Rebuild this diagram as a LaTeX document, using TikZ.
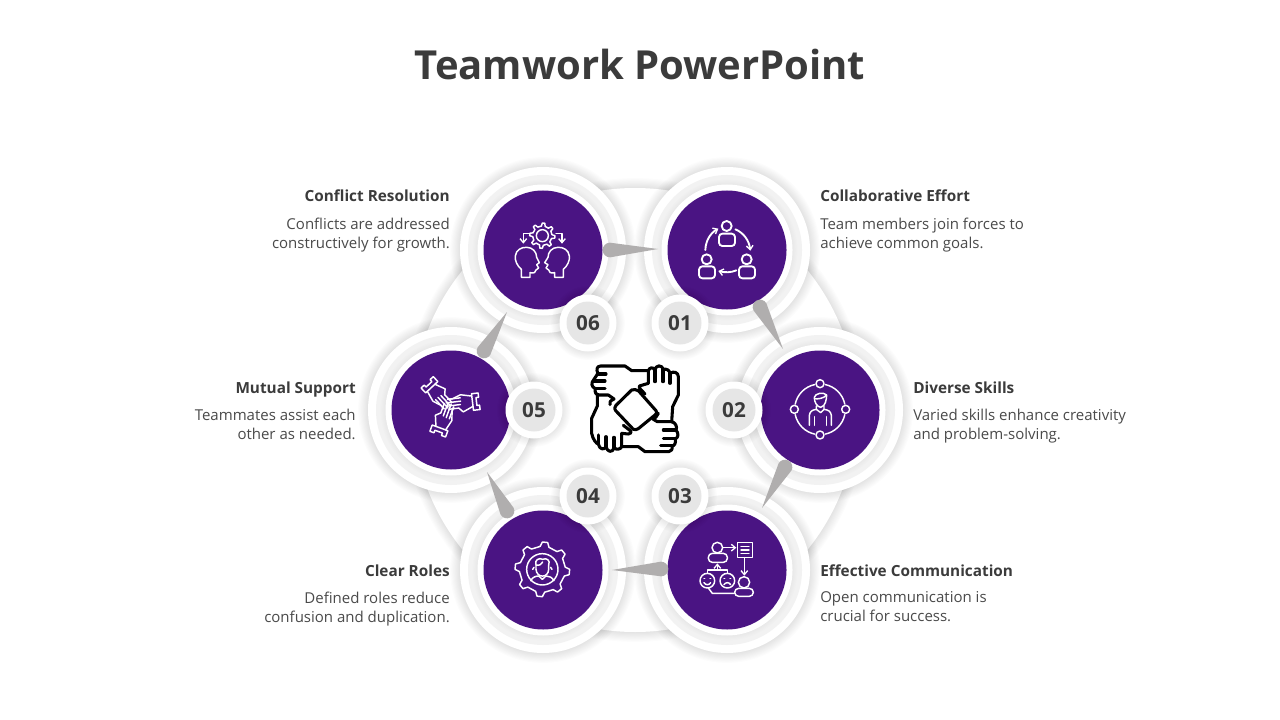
\documentclass[tikz,border=0pt]{standalone}
\usepackage{fontspec}
\setmainfont{Open Sans}
\usetikzlibrary{calc,arrows.meta}
\definecolor{ink}{HTML}{3B3B3B}
\definecolor{bodyink}{HTML}{4A4A4A}
\definecolor{royal}{HTML}{4A1483}
\definecolor{ringgray}{HTML}{F2F2F2}
\definecolor{badgegray}{HTML}{E6E6E6}
\definecolor{tearcol}{HTML}{B0AEAE}
\tikzset{
  hub/.style={circle,fill=white,inner sep=0pt,minimum size=444*.75pt},
  ringout/.style={circle,fill=white,inner sep=0pt,minimum size=166*.75pt},
  ringmid/.style={circle,fill=ringgray,inner sep=0pt,minimum size=150*.75pt},
  ringin/.style={circle,fill=white,inner sep=0pt,minimum size=131*.75pt},
  disc/.style={circle,fill=royal,inner sep=0pt,minimum size=119*.75pt},
  badgeout/.style={circle,fill=white,inner sep=0pt,minimum size=57*.75pt},
  badge/.style={circle,fill=badgegray,inner sep=0pt,minimum size=43*.75pt,text=ink,font=\fontsize{15.5}{18}\selectfont\bfseries},
  head/.style={text=ink,inner sep=0pt,font=\fontsize{11.5}{14}\selectfont\bfseries},
  desc/.style={text=bodyink,inner sep=0pt,font=\fontsize{11.25}{14.25}\selectfont},
  teardrop/.style={fill=tearcol},
  zoomed/.style={x=.25pt,y=-.25pt},
  icon/.style={zoomed,draw=white,line width=1.4pt,line cap=round,line join=round},
  ticon/.style={zoomed,draw=white,line width=1.1pt,line cap=round,line join=round},
  hands/.style={zoomed,draw=black,line width=2.3pt,line cap=round,line join=round},
  tip/.style={-{Straight Barb[length=3pt,width=5pt,line width=1pt]}}
}
\newcommand\softshadow[3]{%
  \foreach \i in {1,...,9}{\fill[black,opacity=.010] (#1,#2) circle[radius=#3+\i*1.1];}}
\newcommand\softring[3]{%
  \foreach \i in {1,...,5}{\fill[black,opacity=.006] (#1,#2) circle[radius=#3+\i*1.1];}}
\newcommand\tear[3]{%
  \fill[teardrop] let \p1=($(#2)-(#1)$),\n1={atan2(\y1,\x1)} in
   ($(#1)+({\n1+90}:#3)$) arc[start angle=\n1+90,delta angle=180,radius=#3] -- (#2) -- cycle;}
\newcommand\gearpath[5]{% cx cy rout rin teeth
  \draw (#1,#2) ++(0:#3) \foreach \k in {1,...,#5}{
     -- ($(#1,#2)+({(\k-1)*360/#5+90/#5}:#3)$)
     -- ($(#1,#2)+({(\k-1)*360/#5+135/#5}:#4)$)
     -- ($(#1,#2)+({(\k-1)*360/#5+315/#5}:#4)$)
     -- ($(#1,#2)+({\k*360/#5}:#3)$)} -- cycle;}
\newcommand\handthree{%
  \draw (93,-12) -- (93,-25) -- (73,-25) -- (73,25) -- (93,25) -- (93,12) -- (85,12) -- (85,-12) -- cycle;
  \draw (73,-18) -- (40,-26) -- (14,-17) -- (0,-17);
  \draw (0,-17) -- (38,-17) (-6,-7) -- (38,-7) (-5,3) -- (36,3) (0,13) -- (30,13);
  \draw (73,13) -- (42,26) -- (30,13);
}
\begin{document}
\begin{tikzpicture}[x=.75pt,y=-.75pt]
\useasboundingbox (0,0) rectangle (1280,720);
\fill[white] (0,0) rectangle (1280,720);
\node[text=ink,inner sep=0pt,font=\fontsize{30}{36}\selectfont\bfseries] (title) at (640,65) {Teamwork PowerPoint};
% hub
\softshadow{635}{410}{222}
\node[hub] (hub) at (635,410) {};
% rings
\foreach \nm/\x/\y in {a/727/250,b/820/410,c/727/570,d/543/570,e/451/410,f/543/250}{
  \softshadow{\x}{\y}{83}
  \node[ringout] (out\nm) at (\x,\y) {};
  \node[ringmid] (mid\nm) at (\x,\y) {};
  \softring{\x}{\y}{65}
  \node[ringin] (in\nm) at (\x,\y) {};
  \node[disc] (disc\nm) at (\x,\y) {};
}
% connectors
\coordinate (ta1) at (610,250); \coordinate (ta2) at (658,249);
\coordinate (tb1) at (760,307); \coordinate (tb2) at (783,349);
\coordinate (tc1) at (785,467); \coordinate (tc2) at (762,508);
\coordinate (td1) at (661,569); \coordinate (td2) at (612,570);
\coordinate (te1) at (507,511); \coordinate (te2) at (487,472);
\coordinate (tf1) at (484,351); \coordinate (tf2) at (507,312);
\tear{ta1}{ta2}{5.5pt}
\tear{tb1}{tb2}{5.5pt}
\tear{tc1}{tc2}{5.5pt}
\tear{td1}{td2}{5.5pt}
\tear{te1}{te2}{5.5pt}
\tear{tf1}{tf2}{5.5pt}
% badges
\foreach \nm/\x/\y/\t in {a/680/323/01,b/734/410/02,c/680/496/03,d/588/496/04,e/534/410/05,f/588/323/06}{
  \softshadow{\x}{\y}{27}
  \node[badgeout] (bo\nm) at (\x,\y) {};
  \node[badge] (num\nm) at (\x,\y) {\t};
}
% labels right
\node[head,anchor=base west] (ha) at (820,202) {Collaborative Effort};
\node[desc,anchor=north west,align=left] (da) at (820,217.5) {Team members join forces to\\achieve common goals.};
\node[head,anchor=base west] (hb) at (913,393) {Diverse Skills};
\node[desc,anchor=north west,align=left] (db) at (913,408.5) {Varied skills enhance creativity\\and problem-solving.};
\node[head,anchor=base west] (hc) at (820,576) {Effective Communication};
\node[desc,anchor=north west,align=left] (dc) at (820,591.5) {Open communication is\\crucial for success.};
% labels left
\node[head,anchor=base east] (hf) at (450,202) {Conflict Resolution};
\node[desc,anchor=north east,align=right] (df) at (450,217.5) {Conflicts are addressed\\constructively for growth.};
\node[head,anchor=base east] (he) at (356,393) {Mutual Support};
\node[desc,anchor=north east,align=right] (de) at (356,408.5) {Teammates assist each\\other as needed.};
\node[head,anchor=base east] (hd) at (450,576) {Clear Roles};
\node[desc,anchor=north east,align=right] (dd) at (450,591.5) {Defined roles reduce\\confusion and duplication.};
% centre hands
\begin{scope}[shift={(570,350)},hands]
 \draw (235,62) -- (185,62) -- (165,48) -- (92,48) .. controls (80,48) and (78,60) .. (84,70) -- (72,88) .. controls (62,100) and (64,110) .. (76,116) .. controls (74,126) and (76,134) .. (88,135) -- (115,135) -- (132,147) .. controls (122,152) and (116,156) .. (120,164);
 \draw (82,72) -- (108,72) (70,93) -- (105,93) (76,116) -- (105,116);
 \draw (235,62) .. controls (238,52) and (250,50) .. (254,60) .. controls (258,44) and (276,44) .. (280,58) .. controls (290,56) and (298,60) .. (300,70) .. controls (312,62) and (325,68) .. (325,80) -- (325,135) -- (308,170) -- (305,215);
 \draw (235,62) -- (235,100) -- (208,108) .. controls (206,114) and (214,120) .. (225,132);
 \draw (255,60) -- (255,95) (279,58) -- (279,95) (300,70) -- (300,100);
 \draw (135,172) .. controls (135,175) and (133,178) .. (137,182) -- (190,238) .. controls (195,240) and (200,239) .. (205,236) -- (255,195) .. controls (262,190) and (262,186) .. (258,182) -- (205,122) .. controls (200,118) and (190,118) .. (185,120) -- (138,166) .. controls (135,169) and (135,170) .. (135,172);
 \draw (305,215) -- (262,215) -- (250,208) .. controls (255,205) and (262,198) .. (265,190);
 \draw (305,215) .. controls (318,218) and (322,232) .. (318,240) .. controls (326,250) and (326,262) .. (316,267) .. controls (318,278) and (314,288) .. (306,288) .. controls (308,298) and (304,305) .. (296,305) -- (225,305) -- (205,290) -- (155,290) -- (155,250);
 \draw (280,240) -- (318,240) (280,266) -- (316,266) (272,287) -- (306,287);
 \draw (155,250) -- (175,252) .. controls (182,252) and (186,246) .. (182,243) -- (160,226);
 \draw (82,135) -- (82,168) -- (65,205) -- (65,250) .. controls (68,268) and (80,282) .. (85,282) .. controls (88,300) and (104,300) .. (108,290) .. controls (112,308) and (128,308) .. (132,294) .. controls (140,300) and (152,298) .. (155,290);
 \draw (85,255) -- (85,282) (108,260) -- (108,292) (132,262) -- (132,294);
\end{scope}
% icon 01
\begin{scope}[shift={(665,190)},icon]
 \draw (185,108) circle[radius=15];
 \draw[rounded corners=2.5pt] (162,131) rectangle (210,168);
 \draw (125,208) circle[radius=15];
 \draw[rounded corners=2.5pt] (102,229) rectangle (150,265);
 \draw (245,208) circle[radius=15];
 \draw[rounded corners=2.5pt] (222,229) rectangle (270,265);
 \draw[tip] (121,180) .. controls (122,150) and (138,128) .. (160,116);
 \draw[tip] (211,118) .. controls (235,128) and (252,150) .. (256,182);
 \draw[tip] (214,241) .. controls (198,248) and (180,248) .. (160,243);
\end{scope}
% icon 02
\begin{scope}[shift={(755,350)},ticon]
 \foreach \a/\b in {12/78,102/168,192/258,282/348}{\draw (195,178) ++(\a:76) arc[start angle=\a,end angle=\b,radius=76];}
 \foreach \x/\y in {195/101,195/255,118/178,272/178}{\draw (\x,\y) circle[radius=12];}
 \draw (178,142) .. controls (180,130) and (205,125) .. (215,135) .. controls (214,150) and (212,168) .. (197,172) .. controls (186,170) and (178,158) .. (178,142);
 \draw (178,146) .. controls (190,148) and (205,145) .. (214,136);
 \draw (184,168) -- (184,178) -- (197,188) -- (207,178) -- (207,168);
 \draw (184,178) .. controls (170,180) and (165,185) .. (163,196) -- (163,226);
 \draw (207,178) .. controls (222,180) and (227,185) .. (229,196) -- (229,226);
 \draw (178,200) -- (178,226) (214,200) -- (214,226);
\end{scope}
% icon 03
\begin{scope}[shift={(665,510)},ticon]
 \draw (157,113) circle[radius=16];
 \draw[rounded corners=3pt] (130,157) -- (130,130) -- (187,130) -- (187,157) -- cycle;
 \draw[tip] (174,113) -- (214,113);
 \draw (218,97) rectangle (262,143);
 \draw (228,110) -- (252,110) (228,120) -- (252,120) (228,131) -- (252,131);
 \draw[tip] (238,143) -- (238,197);
 \draw[tip] (157,180) -- (157,160);
 \draw (127,190) -- (127,180) -- (187,180) -- (187,190);
 \draw (127,212) circle[radius=22];
 \draw (187,212) circle[radius=22];
 \draw (117,205) -- (119,205) (135,205) -- (137,205) (177,205) -- (179,205) (195,205) -- (197,205);
 \draw (117,218) .. controls (122,226) and (132,226) .. (137,218);
 \draw (177,224) .. controls (182,216) and (192,216) .. (197,224);
 \draw (130,234) -- (142,250) -- (208,250);
 \draw (237,217) circle[radius=17];
 \draw[rounded corners=3pt] (209,259) -- (209,235) -- (265,235) -- (265,259) -- cycle;
\end{scope}
% icon 04
\begin{scope}[shift={(480,510)},ticon]
 \gearpath{187}{178}{82}{69}{8}
 \draw (187,178) circle[radius=47];
 \draw (168,178) .. controls (170,205) and (205,205) .. (206,178) -- (206,165);
 \draw (168,178) -- (168,165) .. controls (162,150) and (178,142) .. (188,148) .. controls (200,142) and (212,152) .. (206,165);
 \draw (168,165) .. controls (178,168) and (186,162) .. (188,156);
 \draw (152,212) .. controls (158,200) and (170,198) .. (176,198) -- (187,208) -- (198,198) .. controls (208,198) and (216,202) .. (222,212);
 \draw (162,172) -- (158,178) (212,172) -- (216,178);
\end{scope}
% icon 05
\begin{scope}[shift={(390,350)},zoomed]
 \begin{scope}[shift={(175,165)},ticon,rotate=7]\handthree\end{scope}
 \begin{scope}[shift={(175,165)},ticon,rotate=133]\handthree\end{scope}
 \begin{scope}[shift={(175,165)},ticon,rotate=250]\handthree\end{scope}
\end{scope}
% icon 06
\begin{scope}[shift={(480,190)},ticon]
 \gearpath{187}{137}{38}{29}{8}
 \draw (187,137) circle[radius=18];
 \draw[tip] (146,130) -- (130,130) -- (130,161);
 \draw[tip] (228,130) -- (246,130) -- (246,161);
 \draw (124,262) -- (124,238) .. controls (112,228) and (104,212) .. (106,198) .. controls (108,180) and (124,171) .. (140,172) .. controls (158,172) and (170,186) .. (170,202) -- (178,218) -- (170,224) -- (176,234) -- (168,240) .. controls (168,248) and (162,250) .. (150,248) -- (150,262) -- cycle;
 \draw (250,262) -- (250,238) .. controls (262,228) and (270,212) .. (268,198) .. controls (266,180) and (250,171) .. (234,172) .. controls (216,172) and (204,186) .. (204,202) -- (194,218) -- (204,224) -- (198,234) -- (206,240) .. controls (206,248) and (212,250) .. (224,248) -- (224,262) -- cycle;
\end{scope}
\end{tikzpicture}
\end{document}
